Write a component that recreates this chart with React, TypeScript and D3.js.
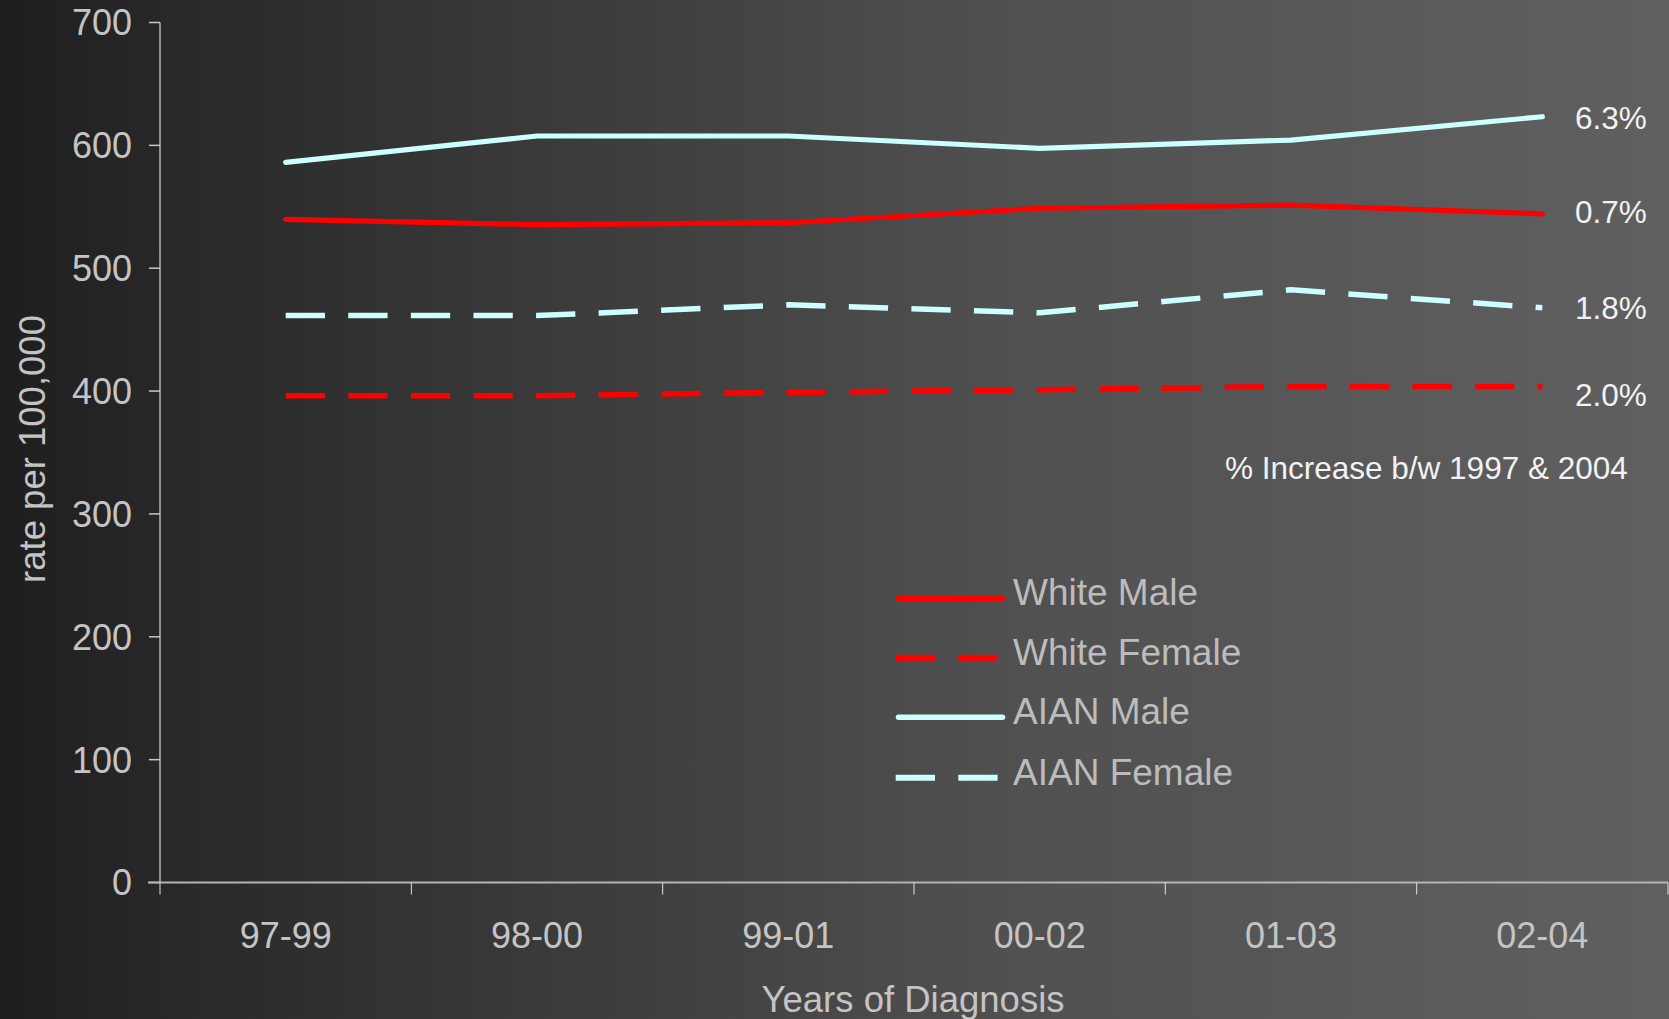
import React from "react";
import * as d3 from "d3";

const categories = ["97-99", "98-00", "99-01", "00-02", "01-03", "02-04"];
const whiteMale = [539.8, 535.5, 537.0, 548.8, 551.3, 544.3];
const whiteFemale = [396.2, 396.2, 399.0, 401.0, 403.8, 403.8];
const aianMale = [586.2, 607.6, 607.6, 597.6, 604.3, 623.3];
const aianFemale = [461.5, 461.5, 470.2, 463.7, 482.4, 467.8];
const pctLabels = ["6.3%", "0.7%", "1.8%", "2.0%"];
const yTicks = [0, 100, 200, 300, 400, 500, 600, 700];

const seriesList = [
  { name: "White Male", values: whiteMale, color: "#ff0000", dashed: false },
  { name: "White Female", values: whiteFemale, color: "#ff0000", dashed: true },
  { name: "AIAN Male", values: aianMale, color: "#ccffff", dashed: false },
  { name: "AIAN Female", values: aianFemale, color: "#ccffff", dashed: true },
];

const W = 1669;
const H = 1019;
const FONT = "'Liberation Sans', Arial, sans-serif";

export default function App() {
  const x = d3.scaleBand<string>().domain(categories).range([160, 1668]);
  const y = d3.scaleLinear().domain([0, 700]).range([882.5, 22.5]);
  const cx = (c: string) => (x(c) as number) + x.bandwidth() / 2;
  const line = d3
    .line<number>()
    .x((_, i) => cx(categories[i]))
    .y((v) => y(v));

  const boundaries = d3.range(categories.length + 1).map((i) => 160 + i * x.bandwidth());
  const pctBaselines = [129, 223, 319, 406];
  const legendY = [598.3, 657.7, 717.3, 777.7];

  return (
    <svg
      width={W}
      height={H}
      style={{ position: "absolute", left: 0, top: 0, display: "block" }}
      fontFamily={FONT}
    >
      <defs>
        <linearGradient id="bg" x1="0" x2="1" y1="0" y2="0">
          <stop offset="0" stopColor="#1e1e1e" />
          <stop offset="0.1" stopColor="#282828" />
          <stop offset="0.6" stopColor="#505050" />
          <stop offset="1" stopColor="#606060" />
        </linearGradient>
      </defs>
      <rect x={0} y={0} width={W} height={H} fill="url(#bg)" />

      {/* Y axis */}
      <line x1={160} x2={160} y1={y(700)} y2={y(0)} stroke="#d8d8d8" strokeWidth={1.2} />
      {yTicks.map((t) => (
        <g key={t}>
          <line x1={149} x2={160} y1={y(t)} y2={y(t)} stroke="#c8c8c8" strokeWidth={1.5} />
          <text
            x={132}
            y={y(t)}
            dy="0.36em"
            textAnchor="end"
            fontSize={36}
            fill="#c4c4c4"
          >
            {t}
          </text>
        </g>
      ))}

      {/* X axis */}
      <line x1={148} x2={1668} y1={y(0)} y2={y(0)} stroke="#b4b4b4" strokeWidth={2.2} />
      {boundaries.map((b, i) => (
        <line key={i} x1={b} x2={b} y1={y(0)} y2={y(0) + 12} stroke="#e0e0e0" strokeWidth={1} />
      ))}
      {categories.map((c) => (
        <text key={c} x={cx(c)} y={948} textAnchor="middle" fontSize={36} fill="#c4c4c4">
          {c}
        </text>
      ))}
      <text x={913} y={1012} textAnchor="middle" fontSize={36.5} fill="#c4c4c4">
        Years of Diagnosis
      </text>
      <text
        transform="translate(45,449) rotate(-90)"
        textAnchor="middle"
        fontSize={36.5}
        fill="#c4c4c4"
      >
        rate per 100,000
      </text>

      {/* Lines */}
      {seriesList.map((s) => (
        <path
          key={s.name}
          d={line(s.values) as string}
          fill="none"
          stroke={s.color}
          strokeWidth={s.dashed ? 5.5 : 5.2}
          strokeDasharray={s.dashed ? "39.3 23.3" : undefined}
          strokeLinecap={s.dashed ? "butt" : "round"}
          strokeLinejoin="round"
        />
      ))}

      {/* Percent labels */}
      {pctLabels.map((p, i) => (
        <text key={i} x={1575} y={pctBaselines[i]} fontSize={31.5} fill="#f2f2f2">
          {p}
        </text>
      ))}
      <text x={1225} y={479} fontSize={31.5} fill="#f2f2f2">
        % Increase b/w 1997 &amp; 2004
      </text>

      {/* Legend */}
      {seriesList.map((s, i) => (
        <g key={s.name}>
          {s.dashed ? (
            <line
              x1={895.7}
              x2={997.7}
              y1={legendY[i]}
              y2={legendY[i]}
              stroke={s.color}
              strokeWidth={6}
              strokeDasharray="39.3 23.3"
            />
          ) : (
            <line
              x1={898.5}
              x2={1002.5}
              y1={legendY[i]}
              y2={legendY[i]}
              stroke={s.color}
              strokeWidth={5.5}
              strokeLinecap="round"
            />
          )}
          <text x={1013} y={legendY[i] + 7} fontSize={37} fill="#bcbcbc">
            {s.name}
          </text>
        </g>
      ))}
    </svg>
  );
}
